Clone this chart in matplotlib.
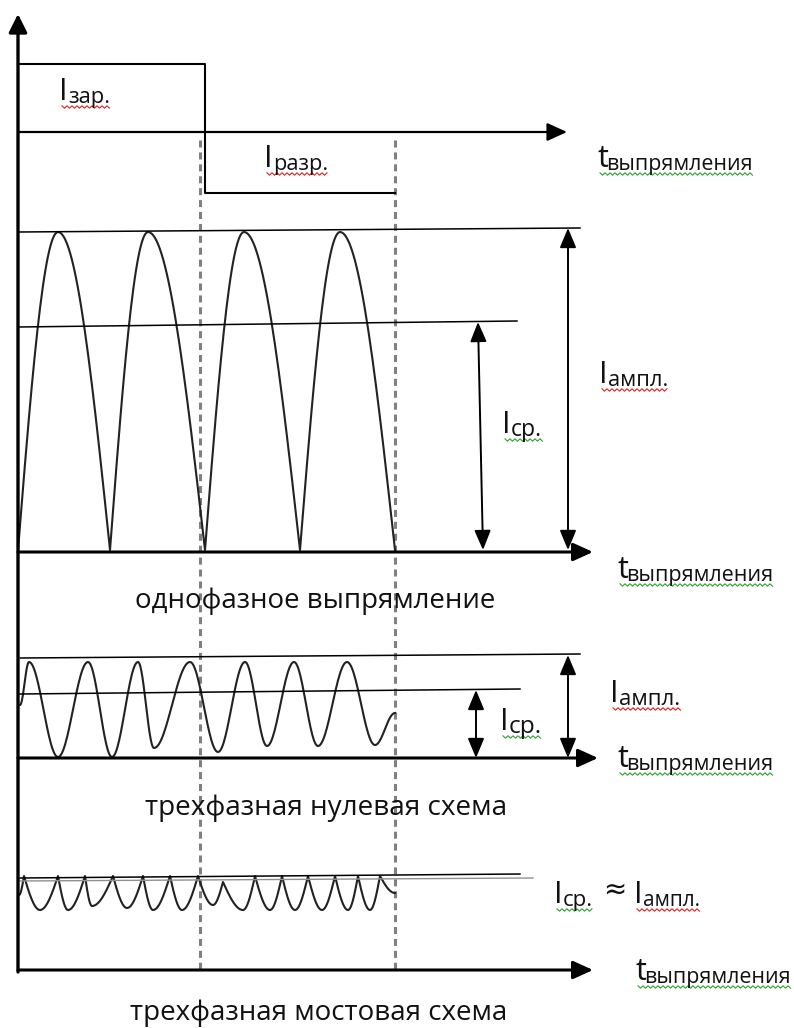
import numpy as np
import matplotlib
matplotlib.use("Agg")
from matplotlib import pyplot as plt

plt.rcParams['font.family'] = ['Open Sans', 'DejaVu Sans']

W, H = 794, 1028

# --- diagram data (pixel units of the sketch) ---
# charge / discharge pulse
pulse_x = [18, 205, 205, 395]
pulse_y = [64, 64, 193, 193]

# single-phase rectified current: extrema (x, y)
wave1_x = [18, 58, 110, 148, 205, 244, 300, 340, 395]
wave1_y = [550, 232, 550, 232, 550, 232, 550, 232, 550]

# three-phase zero circuit
wave2_x = [20, 29, 58, 88, 112, 138, 154, 190, 218, 245, 267, 294, 318, 347, 375, 395]
wave2_y = [705, 662, 757, 662, 757, 662, 748, 662, 752, 662, 746, 662, 746, 662, 745, 713]

# three-phase bridge circuit
wave3_x = [19, 24, 40, 58, 68, 85, 92, 113, 127, 143, 153, 170, 182, 198, 213, 223,
           243, 255, 270, 282, 295, 308, 322, 335, 348, 358, 370, 380, 395]
wave3_y = [895, 876, 910, 876, 910, 876, 906, 876, 908, 876, 910, 876, 910, 876, 905, 882,
           910, 876, 910, 876, 910, 876, 910, 876, 910, 876, 910, 876, 893]

# amplitude / mean level lines: (x0, y0, x1, y1)
amp_lines = [(18, 232, 580, 228), (20, 658, 580, 654), (20, 878, 520, 874)]
mean_lines = [(18, 327, 517, 321), (20, 694, 520, 689)]

# double arrows: (x_top, y_top, x_bottom, y_bottom)
dbl_arrows = [(478, 322, 483, 550), (568, 228, 568, 550),
              (476, 690, 476, 758), (568, 655, 568, 758)]

# time axes: (y, x_tip, linewidth)
time_axes = [(132, 567, 1.6), (552, 593, 2.2), (758, 598, 2.2), (970, 593, 2.2)]

dashed_x = [200, 395]

# labels with subscript: (main, sub, x, baseline, sub_end, underline colour)
sub_labels = [
    ("I", "зар.", 62, 100, 110, "#e02020"),
    ("I", "разр.", 267, 167, 328, "#e02020"),
    ("t", "выпрямления", 600, 167, 752, "#2ca02c"),
    ("I", "ампл.", 602, 383, 668, "#e02020"),
    ("I", "ср.", 505, 433, 542, "#2ca02c"),
    ("t", "выпрямления", 620, 578, 773, "#2ca02c"),
    ("I", "ампл.", 613, 702, 680, "#e02020"),
    ("I", "ср.", 503, 730, 542, "#2ca02c"),
    ("t", "выпрямления", 620, 767, 773, "#2ca02c"),
    ("I", "ср.", 557, 903, 593, "#2ca02c"),
    ("I", "ампл.", 637, 903, 700, "#e02020"),
    ("t", "выпрямления", 638, 980, 790, "#2ca02c"),
]

# captions: (text, x_left, x_right, baseline)
captions = [
    ("однофазное выпрямление", 135, 495, 608),
    ("трехфазная нулевая схема", 145, 507, 815),
    ("трехфазная мостовая схема", 130, 508, 1020),
]


def wave_curve(xs, ys, kind):
    """Smooth segments between read-off extrema."""
    px, py = [], []
    u = np.linspace(0, 1, 30)
    for i in range(len(xs) - 1):
        x0, x1, y0, y1 = xs[i], xs[i + 1], ys[i], ys[i + 1]
        rising = y1 < y0
        if kind == "cos":
            f = (1 - np.cos(np.pi * u)) / 2
        elif kind == "rect":
            f = np.sin(np.pi * u / 2) if rising else 1 - np.cos(np.pi * u / 2)
        else:
            f = 1 - np.cos(np.pi * u / 2) if rising else np.sin(np.pi * u / 2)
        px.extend(x0 + (x1 - x0) * u)
        py.extend(y0 + (y1 - y0) * f)
    return px, py


def arrow(ax, start, tip, lw, style="-|>", scale=20):
    ax.annotate("", xy=tip, xytext=start,
                arrowprops=dict(arrowstyle=style, lw=lw, color="black",
                                mutation_scale=scale, shrinkA=0, shrinkB=0))


fig = plt.figure(figsize=(W / 100, H / 100), dpi=100)
ax = fig.add_axes([0, 0, 1, 1])
ax.set_xlim(0, W)
ax.set_ylim(H, 0)
ax.axis("off")

# dashed markers
for x in dashed_x:
    ax.plot([x, x], [140, 972], color="#808080", lw=2.2, dashes=(2.3, 1.6))

# vertical axis
arrow(ax, (18, 972), (18, 14), 2.4, "-|>,head_length=0.5,head_width=0.25", 22)

# time axes
for y, tip, lw in time_axes:
    arrow(ax, (18, y), (tip, y), lw, "-|>,head_length=0.55,head_width=0.25", 22)

# pulse
ax.plot(pulse_x, pulse_y, color="black", lw=1.5)

# waves
for xs, ys, kind in [(wave1_x, wave1_y, "rect"), (wave2_x, wave2_y, "cos"),
                     (wave3_x, wave3_y, "ripple")]:
    cx, cy = wave_curve(xs, ys, kind)
    ax.plot(cx, cy, color="#222222", lw=1.5)

for x0, y0, x1, y1 in amp_lines + mean_lines:
    ax.plot([x0, x1], [y0, y1], color="black", lw=1.1)
ax.plot([20, 533], [881, 878], color="#909090", lw=1.0)

for x0, y0, x1, y1 in dbl_arrows:
    arrow(ax, (x1, y1), (x0, y0), 1.4, "<|-|>,head_length=0.6,head_width=0.25", 20)

fig.canvas.draw()
renderer = fig.canvas.get_renderer()


def fit_width(t, width):
    bb = t.get_window_extent(renderer)
    t.set_fontsize(t.get_fontsize() * width / bb.width)


for main, sub, x, base, end, col in sub_labels:
    ax.text(x - 3, base, main, fontsize=22, va="baseline", ha="left", color="#111111")
    s0 = x + 6
    ts = ax.text(s0, base + 3, sub, fontsize=15, va="baseline", ha="left", color="#111111")
    fit_width(ts, end - s0)
    zx = np.arange(x, end + 1, 2.5)
    zy = base + 7 + np.where(np.arange(len(zx)) % 2 == 0, -1.2, 1.2)
    ax.plot(zx, zy, color=col, lw=0.8)

ax.text(603, 898, "≈", fontsize=20, va="baseline", ha="left", color="#111111",
        family=["DejaVu Sans"])

for text, x0, x1, base in captions:
    tc = ax.text(x0, base, text, fontsize=16, va="baseline", ha="left", color="#111111")
    fit_width(tc, x1 - x0)

fig.savefig("out.png", dpi=100)
